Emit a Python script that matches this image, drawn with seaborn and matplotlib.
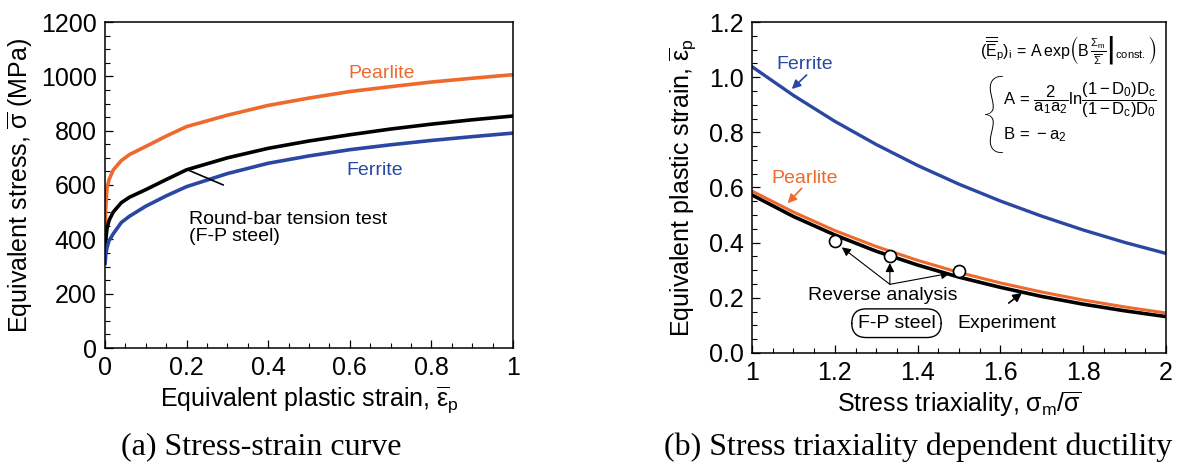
import matplotlib
matplotlib.use("Agg")
import matplotlib.pyplot as plt
from matplotlib.ticker import MultipleLocator, FixedLocator, FixedFormatter
import pandas as pd
import seaborn as sns

# ---- (a) equivalent stress vs. equivalent plastic strain ----
strain = [0, 0.002, 0.005, 0.01, 0.02, 0.04, 0.06, 0.1, 0.15, 0.2,
          0.3, 0.4, 0.5, 0.6, 0.7, 0.8, 0.9, 1.0]
stress_pearlite = [430, 520, 590, 620, 655, 690, 712, 742, 780, 815,
                   857, 893, 920, 944, 962, 979, 993, 1006]
stress_fp_steel = [335, 400, 440, 470, 500, 535, 555, 583, 620, 656,
                   700, 735, 762, 785, 806, 824, 840, 854]
stress_ferrite = [305, 345, 370, 395, 420, 462, 485, 522, 560, 594,
                  642, 680, 707, 730, 748, 764, 778, 791]

# ---- (b) fracture strain vs. stress triaxiality ----
triaxiality = [1.0, 1.1, 1.2, 1.3, 1.4, 1.5, 1.6, 1.7, 1.8, 1.9, 2.0]
ductility_ferrite = [1.038, 0.934, 0.840, 0.756, 0.680, 0.612, 0.551,
                     0.496, 0.446, 0.401, 0.361]
ductility_pearlite = [0.587, 0.511, 0.444, 0.386, 0.336, 0.292, 0.254,
                      0.221, 0.192, 0.167, 0.145]
ductility_experiment = [0.573, 0.495, 0.428, 0.369, 0.319, 0.275, 0.238,
                        0.205, 0.177, 0.153, 0.132]
reverse_triaxiality = [1.2, 1.333, 1.5]
reverse_strain = [0.407, 0.353, 0.298]

ORANGE = "#EE6A2C"
BLUE = "#2A48A2"

sns.set_theme(style="ticks")
plt.rcParams.update({
    "font.family": ["Liberation Sans", "DejaVu Sans"],
    "mathtext.fontset": "custom",
    "mathtext.rm": "Liberation Sans",
    "mathtext.it": "Liberation Sans:italic",
    "mathtext.bf": "Liberation Sans:bold",
    "mathtext.sf": "Liberation Sans",
    "mathtext.fallback": "stixsans",
    "axes.edgecolor": "black",
    "axes.linewidth": 1.1,
    "xtick.direction": "in",
    "ytick.direction": "in",
    "xtick.color": "black",
    "ytick.color": "black",
    "xtick.major.size": 6,
    "ytick.major.size": 6,
    "xtick.minor.size": 3.5,
    "ytick.minor.size": 3.5,
    "xtick.major.width": 0.9,
    "ytick.major.width": 0.9,
    "xtick.minor.width": 0.8,
    "ytick.minor.width": 0.8,
    "xtick.labelsize": 18,
    "ytick.labelsize": 18,
    "axes.labelsize": 18,
    "text.color": "black",
    "axes.labelcolor": "black",
})

fig = plt.figure(figsize=(11.78, 4.62), dpi=100)
ax1 = fig.add_axes([105 / 1178, 1 - 348 / 462, 408 / 1178, 326 / 462])
ax2 = fig.add_axes([752 / 1178, 1 - 353 / 462, 414 / 1178, 331 / 462])

# ---------------- panel (a) ----------------
flow = pd.DataFrame({"strain": strain, "Pearlite": stress_pearlite,
                     "F-P steel": stress_fp_steel, "Ferrite": stress_ferrite})
for name, color in [("Pearlite", ORANGE), ("F-P steel", "black"), ("Ferrite", BLUE)]:
    sns.lineplot(data=flow, x="strain", y=name, ax=ax1, color=color,
                 lw=2.6, legend=False, solid_capstyle="butt")

ax1.set_xlim(0, 1)
ax1.set_ylim(0, 1200)
ax1.xaxis.set_major_locator(FixedLocator([0, 0.2, 0.4, 0.6, 0.8, 1.0]))
ax1.xaxis.set_major_formatter(FixedFormatter(["0", "0.2", "0.4", "0.6", "0.8", "1"]))
ax1.xaxis.set_minor_locator(MultipleLocator(0.05))
ax1.yaxis.set_major_locator(MultipleLocator(200))
ax1.yaxis.set_minor_locator(MultipleLocator(50))
ax1.tick_params(which="both", top=False, right=False, pad=6)
ax1.set_xlabel(r"Equivalent plastic strain, $\overline{\mathrm{\varepsilon}}_\mathrm{p}$", labelpad=3)
ax1.set_ylabel(r"Equivalent stress, $\overline{\mathrm{\sigma}}$ (MPa)", labelpad=4)

ax1.text(0.596, 1012, "Pearlite", color=ORANGE, fontsize=14, va="center", ha="left")
ax1.text(0.592, 655, "Ferrite", color=BLUE, fontsize=14, va="center", ha="left")
ax1.text(0.207, 440, "Round-bar tension test\n(F-P steel)", fontsize=14,
         va="center", ha="left", linespacing=1.0)
ax1.plot([0.204, 0.29], [655, 600], color="black", lw=1.2)

# ---------------- panel (b) ----------------
duct = pd.DataFrame({"triax": triaxiality, "Ferrite": ductility_ferrite,
                     "Pearlite": ductility_pearlite,
                     "Experiment": ductility_experiment})
sns.lineplot(data=duct, x="triax", y="Ferrite", ax=ax2, color=BLUE, lw=2.4, legend=False)
sns.lineplot(data=duct, x="triax", y="Experiment", ax=ax2, color="black", lw=2.6, legend=False)
sns.lineplot(data=duct, x="triax", y="Pearlite", ax=ax2, color=ORANGE, lw=2.2, legend=False)
sns.scatterplot(x=reverse_triaxiality, y=reverse_strain, ax=ax2, s=75,
                facecolor="white", edgecolor="black", linewidth=1.2, zorder=5)

ax2.set_xlim(1, 2)
ax2.set_ylim(0, 1.2)
ax2.xaxis.set_major_locator(FixedLocator([1.0, 1.2, 1.4, 1.6, 1.8, 2.0]))
ax2.xaxis.set_major_formatter(FixedFormatter(["1", "1.2", "1.4", "1.6", "1.8", "2"]))
ax2.xaxis.set_minor_locator(MultipleLocator(0.05))
ax2.yaxis.set_major_locator(FixedLocator([0, 0.2, 0.4, 0.6, 0.8, 1.0, 1.2]))
ax2.yaxis.set_major_formatter(FixedFormatter(["0.0", "0.2", "0.4", "0.6", "0.8", "1.0", "1.2"]))
ax2.yaxis.set_minor_locator(MultipleLocator(0.05))
ax2.tick_params(which="both", top=False, right=False, pad=6)
ax2.set_xlabel(r"Stress triaxiality, $\mathrm{\sigma_m}/\overline{\mathrm{\sigma}}$", labelpad=3)
ax2.set_ylabel(r"Equivalent plastic strain, $\overline{\mathrm{\varepsilon}}_\mathrm{p}$", labelpad=8)

arrow_kw = dict(arrowstyle="-|>", mutation_scale=13, shrinkA=0, shrinkB=0)
ax2.text(1.06, 1.045, "Ferrite", color=BLUE, fontsize=14, va="center", ha="left")
ax2.annotate("", xy=(1.096, 0.957), xytext=(1.132, 1.008),
             arrowprops=dict(color=BLUE, lw=1.2, **arrow_kw))
ax2.text(1.048, 0.633, "Pearlite", color=ORANGE, fontsize=14, va="center", ha="left")
ax2.annotate("", xy=(1.086, 0.543), xytext=(1.12, 0.597),
             arrowprops=dict(color=ORANGE, lw=1.2, **arrow_kw))

ax2.text(1.317, 0.21, "Reverse analysis", fontsize=14, va="center", ha="center")
for tx, ty in [(1.217, 0.383), (1.333, 0.326), (1.478, 0.289)]:
    ax2.annotate("", xy=(tx, ty), xytext=(1.333, 0.249),
                 arrowprops=dict(color="black", lw=0.8, **arrow_kw))

ax2.text(1.349, 0.108, "F-P steel", fontsize=14, va="center", ha="center",
         bbox=dict(boxstyle="round,pad=0.3,rounding_size=0.75",
                   facecolor="white", edgecolor="black", lw=1.0))
ax2.text(1.495, 0.108, "Experiment", fontsize=14, va="center", ha="left")
ax2.annotate("", xy=(1.652, 0.218), xytext=(1.62, 0.181),
             arrowprops=dict(color="black", lw=1.2, **arrow_kw))

# damage-model relations
ax2.text(1.978, 1.098,
         r"$(\overline{\overline{\mathrm{E}}}_\mathrm{p})_\mathrm{i}\,=\,\mathrm{A\,exp}"
         r"\left(\mathrm{B}\,\left.\frac{\Sigma_\mathrm{m}}{\overline{\Sigma}}\right|_{\mathrm{const.}}\right)$",
         fontsize=11.5, ha="right", va="center")
ax2.text(1.606, 0.917,
         r"$\mathrm{A}\,=\,\dfrac{2}{\mathrm{a_1a_2}}\mathrm{ln}"
         r"\dfrac{(1-\mathrm{D_0})\mathrm{D_c}}{(1-\mathrm{D_c})\mathrm{D_0}}$",
         fontsize=12, ha="left", va="center")
ax2.text(1.606, 0.790, r"$\mathrm{B}\,=\,-\mathrm{a_2}$",
         fontsize=12, ha="left", va="center")
ax2.text(1.614, 0.852, "{", family=["Lato", "DejaVu Sans"], fontweight="light",
         fontsize=64, ha="right", va="center")

# panel captions
fig.text(261 / 1178, 1 - 447 / 462, "(a) Stress-strain curve",
         family=["Liberation Serif", "DejaVu Serif"], fontsize=23,
         ha="center", va="center")
fig.text(918 / 1178, 1 - 447 / 462, "(b) Stress triaxiality dependent ductility",
         family=["Liberation Serif", "DejaVu Serif"], fontsize=23,
         ha="center", va="center")

fig.savefig("out.png", dpi=100)
